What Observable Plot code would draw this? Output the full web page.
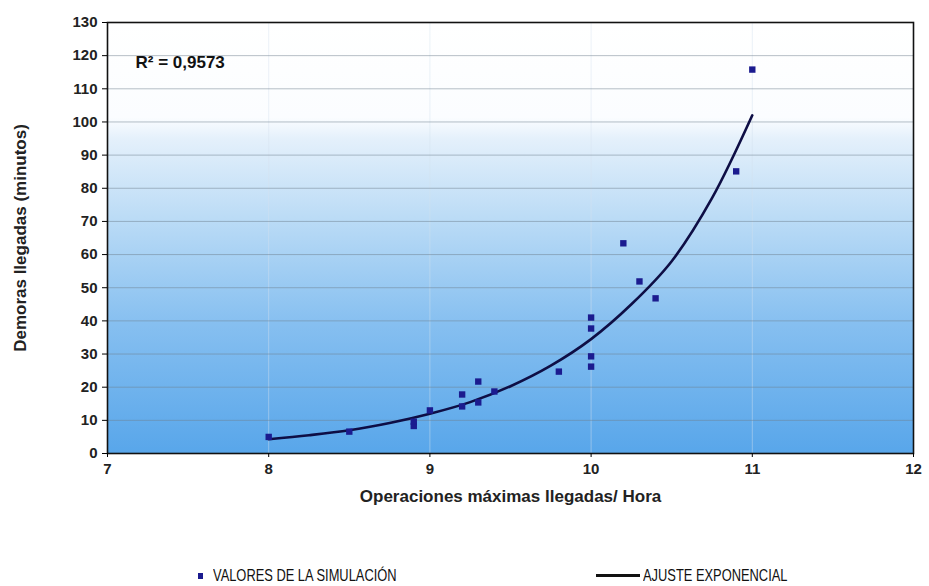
<!DOCTYPE html>
<html>
<head>
<meta charset="utf-8">
<script src="https://cdn.jsdelivr.net/npm/d3@7"></script>
<script src="https://cdn.jsdelivr.net/npm/@observablehq/plot@0.6"></script>
<style>
  body { margin: 0; background: #fff; width: 929px; height: 586px; overflow: hidden; position: relative; font-family: "Liberation Sans", Arial, sans-serif; }
  #legend { position: absolute; left: 0; top: 562px; width: 929px; height: 24px; font-family: "Liberation Sans", Arial, sans-serif; font-size: 16.5px; color: #111; }
  .li { position: absolute; top: 4px; display: flex; align-items: center; }
  .sq { width: 5px; height: 6px; background: #1b1b8f; margin-right: 10px; }
  .ln { width: 44px; height: 3px; background: #111; margin-right: 3px; }
  .tx { display: inline-block; transform: scaleX(0.78); transform-origin: left center; white-space: nowrap; }
</style>
</head>
<body>
<div id="chart"></div>
<div id="legend">
  <div class="li" style="left:198px"><span class="sq"></span><span class="tx">VALORES DE LA SIMULACIÓN</span></div>
  <div class="li" style="left:596px"><span class="ln"></span><span class="tx">AJUSTE EXPONENCIAL</span></div>
</div>
<script>
// Simulation points (operations/hour, delay minutes)
const simX = [8, 8.5, 8.9, 8.9, 9.0, 9.2, 9.2, 9.3, 9.3, 9.4, 9.8, 10, 10, 10, 10, 10.2, 10.3, 10.4, 10.9, 11];
const simY = [5, 6.6, 8.3, 9.6, 13, 17.8, 14.2, 21.7, 15.4, 18.7, 24.7, 41, 37.7, 29.3, 26.2, 63.4, 51.9, 46.8, 85.1, 115.8];
// Exponential trend line
const fitX = [8, 8.25, 8.5, 8.75, 9, 9.25, 9.5, 9.75, 10, 10.25, 10.5, 10.75, 11];
const fitY = [4.3, 5.5, 7, 9.2, 12, 15.5, 20.3, 26.5, 34.5, 45, 58, 77, 102];
const xTicks = [7, 8, 9, 10, 11, 12];
const yTicks = [0, 10, 20, 30, 40, 50, 60, 70, 80, 90, 100, 110, 120, 130];
const r2Label = "R² = 0,9573";
const xTitle = "Operaciones máximas llegadas/ Hora";
const yTitle = "Demoras llegadas (minutos)";

const sim = simX.map((x, i) => ({x, y: simY[i]}));
const fit = fitX.map((x, i) => ({x, y: fitY[i]}));

const chart = Plot.plot({
  width: 929,
  height: 552,
  marginLeft: 107,
  marginRight: 16,
  marginTop: 22,
  marginBottom: 99,
  style: {fontFamily: "'Liberation Sans', Arial, sans-serif", background: "transparent"},
  x: {domain: [7, 12]},
  y: {domain: [0, 130]},
  marks: [
    Plot.frame({fill: "url(#bgGrad)", stroke: "none"}),
    Plot.gridX(xTicks, {stroke: "#d5e2ef", strokeOpacity: 0.45}),
    Plot.gridY(yTicks.slice(1, -1), {stroke: "#6f7f90", strokeOpacity: 0.5, strokeWidth: 1}),
    Plot.frame({stroke: "#111", strokeWidth: 1.6}),
    Plot.axisY(yTicks, {tickSize: 5, tickPadding: 5, fontSize: 15, fontWeight: "bold", fill: "#222",
      tickFormat: d => String(d),
      label: yTitle, labelAnchor: "center", labelArrow: "none", labelOffset: 94}),
    Plot.axisX(xTicks, {tickSize: 4, tickPadding: 6, fontSize: 15, fontWeight: "bold", fill: "#222",
      tickFormat: d => String(d),
      label: xTitle, labelAnchor: "center", labelArrow: "none", labelOffset: 48}),
    Plot.line(fit, {x: "x", y: "y", curve: "catmull-rom", stroke: "#0e0e45", strokeWidth: 2.6}),
    Plot.dot(sim, {x: "x", y: "y", symbol: "square", r: 3.6, fill: "#1b1b8f", stroke: "none"}),
    Plot.text([r2Label], {frameAnchor: "top-left", dx: 28, dy: 33, text: d => d, fontSize: 17, fontWeight: "bold", fill: "#111", textAnchor: "start"})
  ]
});

// gradient definition for the plot background
const svg = d3.select(chart);
const defs = svg.insert("defs", ":first-child");
const g = defs.append("linearGradient").attr("id", "bgGrad").attr("x1", 0).attr("y1", 0).attr("x2", 0).attr("y2", 1);
[["0%", "#ffffff"], ["22%", "#fbfdff"], ["27%", "#e4f0fb"], ["45%", "#bcdcf6"], ["70%", "#86bff0"], ["100%", "#58a6ea"]]
  .forEach(([o, c]) => g.append("stop").attr("offset", o).attr("stop-color", c));
// style the axis labels
svg.selectAll("[aria-label='y-axis label'] text, [aria-label='x-axis label'] text")
  .attr("font-size", 17).attr("font-weight", "bold").attr("fill", "#222");
document.getElementById("chart").appendChild(chart);
</script>
</body>
</html>
